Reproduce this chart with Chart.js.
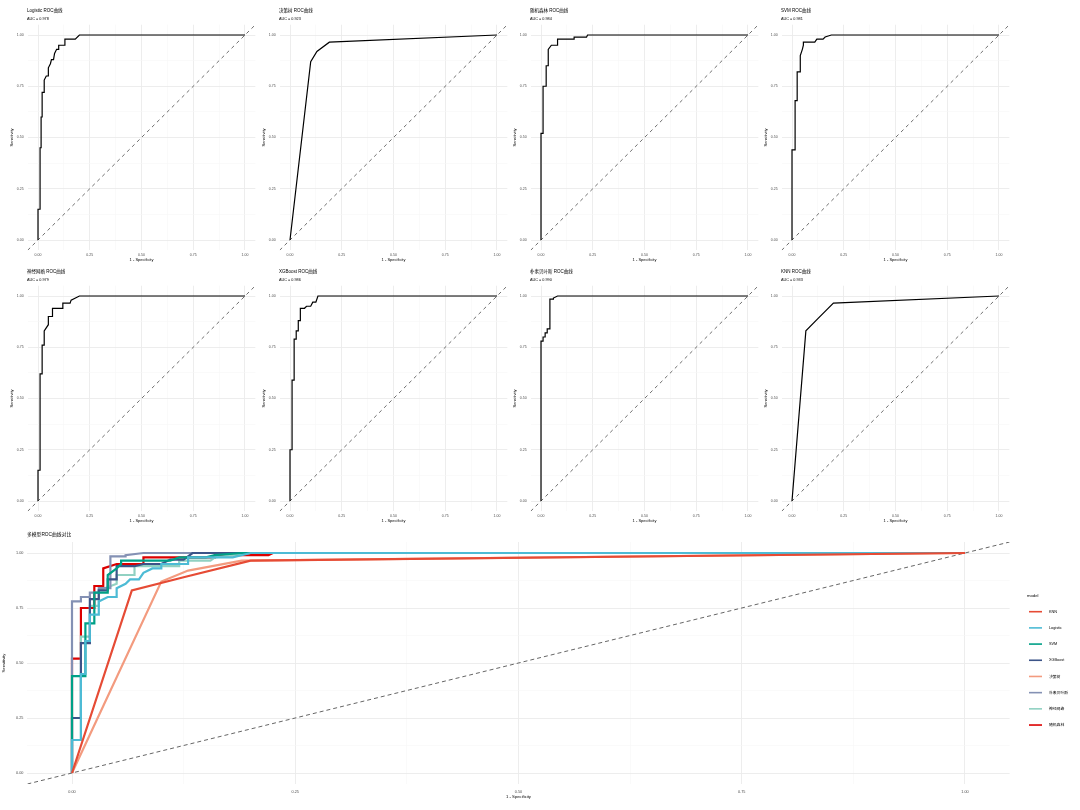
<!DOCTYPE html>
<html><head><meta charset="utf-8">
<script src="https://cdn.jsdelivr.net/npm/chart.js@4.4.1/dist/chart.umd.min.js"></script>
<style>
html,body{margin:0;padding:0;background:#fff;width:1080px;height:810px;overflow:hidden;position:relative;}
canvas{position:absolute;}
</style></head><body>
<script>
// ---------- data ----------
const panelModels = ['Logistic','决策树','随机森林','SVM','神经网络','XGBoost','朴素贝叶斯','KNN'];
const aucLabels   = ['0.978','0.923','0.984','0.981','0.979','0.986','0.990','0.933'];

const fprLogistic = [0,0,0.01,0.01,0.015,0.015,0.02,0.02,0.03,0.03,0.04,0.05,0.05,0.06,0.065,0.075,0.08,0.09,0.10,0.10,0.13,0.13,0.18,0.20,1];
const tprLogistic = [0,0.15,0.15,0.45,0.45,0.60,0.60,0.72,0.72,0.78,0.80,0.80,0.84,0.86,0.88,0.88,0.91,0.93,0.93,0.95,0.95,0.98,0.98,1,1];

const fprTree = [0,0.10,0.13,0.19,1];
const tprTree = [0,0.87,0.92,0.965,1];

const fprRF = [0,0,0.01,0.01,0.025,0.025,0.035,0.035,0.05,0.08,0.08,0.16,0.16,0.22,0.225,1];
const tprRF = [0,0.52,0.52,0.75,0.75,0.85,0.85,0.93,0.95,0.95,0.98,0.98,0.99,0.99,1,1];

const fprSVM = [0,0,0.015,0.015,0.025,0.025,0.04,0.04,0.05,0.055,0.055,0.11,0.12,0.15,0.16,0.19,1];
const tprSVM = [0,0.44,0.44,0.68,0.68,0.82,0.82,0.90,0.93,0.95,0.965,0.965,0.98,0.98,0.99,1,1];

const fprNN = [0,0,0.01,0.01,0.02,0.02,0.03,0.03,0.05,0.05,0.07,0.07,0.09,0.12,0.12,0.155,0.16,0.20,1];
const tprNN = [0,0.15,0.15,0.62,0.62,0.76,0.76,0.83,0.86,0.90,0.90,0.94,0.94,0.94,0.965,0.965,0.98,1,1];

const fprXGB = [0,0,0.01,0.01,0.02,0.02,0.03,0.03,0.04,0.04,0.05,0.05,0.07,0.08,0.08,0.10,0.11,0.125,0.135,1];
const tprXGB = [0,0.25,0.25,0.59,0.59,0.79,0.79,0.83,0.83,0.88,0.88,0.94,0.94,0.95,0.95,0.95,0.97,0.97,1,1];

const fprNB = [0,0,0.01,0.01,0.02,0.02,0.03,0.03,0.043,0.043,0.06,0.06,0.08,1];
const tprNB = [0,0.78,0.78,0.80,0.80,0.82,0.82,0.84,0.84,0.985,0.985,0.99,1,1];

const fprKNN = [0,0.067,0.125,0.20,1];
const tprKNN = [0,0.83,0.89,0.965,1];

const legendOrder  = ['KNN','Logistic','SVM','XGBoost','决策树','朴素贝叶斯','神经网络','随机森林'];
const legendColors = ['#E64B35','#4DBBD5','#00A087','#3C5488','#F39B7F','#8491B4','#91D1C2','#DC0000'];

const majorTicks = [0,0.25,0.5,0.75,1];
const majorLabels = ['0.00','0.25','0.50','0.75','1.00'];
const minorTicks = [0.125,0.375,0.625,0.875];
const diagX = [-0.05,1.05];
const diagY = [-0.05,1.05];

// ---------- helpers ----------
const curves = {
  'Logistic':{f:fprLogistic,t:tprLogistic}, '决策树':{f:fprTree,t:tprTree},
  '随机森林':{f:fprRF,t:tprRF}, 'SVM':{f:fprSVM,t:tprSVM}, '神经网络':{f:fprNN,t:tprNN},
  'XGBoost':{f:fprXGB,t:tprXGB}, '朴素贝叶斯':{f:fprNB,t:tprNB}, 'KNN':{f:fprKNN,t:tprKNN}
};
const FAM = '"Liberation Sans","Noto Sans CJK SC",sans-serif';
const pts = (xs,ys) => xs.map((x,i)=>({x:x,y:ys[i]}));
const allTicks = majorTicks.concat(minorTicks).sort((a,b)=>a-b);
const isMajor = v => majorTicks.some(m=>Math.abs(m-v)<1e-9);
const labelOf = v => { const i = majorTicks.findIndex(m=>Math.abs(m-v)<1e-9); return i>=0 ? majorLabels[i] : ''; };

function axis(isX, o){
  return {
    type:'linear', min:-0.05, max:1.05,
    afterBuildTicks: s => { s.ticks = allTicks.map(v=>({value:v})); },
    afterFit: s => { if(isX) s.height = o.size; else s.width = o.size; },
    grid:{ drawTicks:false, color: c => isMajor(c.tick.value) ? '#EBEBEB' : '#F6F6F6', lineWidth: c => isMajor(c.tick.value) ? 0.9 : 0.6 },
    border:{display:false},
    ticks:{ autoSkip:false, maxRotation:0, padding:o.tickPad, color:'#4D4D4D', font:{size:o.tickFont,family:FAM}, callback: v => labelOf(v) },
    title:{ display:true, text:o.title, color:'#000', font:{size:o.titleFont,family:FAM}, padding: isX ? {top:0,bottom:o.titlePad} : {top:o.titlePad,bottom:0} }
  };
}

const textPlugin = {
  id:'textPlugin',
  afterDraw(chart, args, opts){
    const ctx = chart.ctx; ctx.save();
    ctx.textAlign='left'; ctx.textBaseline='middle'; ctx.fillStyle='#000';
    (opts.items||[]).forEach(it=>{
      ctx.font = it.size+'px '+FAM; ctx.fillStyle = it.color||'#000';
      ctx.fillText(it.text, it.x, it.y);
    });
    if(opts.legend){
      const L = opts.legend;
      ctx.fillStyle='#000'; ctx.font = L.titleSize+'px '+FAM;
      ctx.fillText(L.title, L.x, L.titleY);
      L.names.forEach((n,i)=>{
        const y = L.y0 + i*L.step;
        ctx.strokeStyle = L.colors[i]; ctx.lineWidth = 1.6; ctx.setLineDash([]);
        ctx.beginPath(); ctx.moveTo(L.x+2, y); ctx.lineTo(L.x+15, y); ctx.stroke();
        ctx.fillStyle='#000'; ctx.font = L.size+'px '+FAM;
        ctx.fillText(n, L.x+22, y);
      });
    }
    ctx.restore();
  }
};

function makeCanvas(left, top, w, h){
  const c = document.createElement('canvas');
  c.width = w; c.height = h;
  c.style.left = left+'px'; c.style.top = top+'px';
  c.style.width = w+'px'; c.style.height = h+'px';
  document.body.appendChild(c);
  return c;
}

// ---------- small panels ----------
const colX0 = [38,290,541,792];
const rowY1 = [35,296];
panelModels.forEach((name,k)=>{
  const r = Math.floor(k/4), c = k%4;
  const x0 = colX0[c], y1 = rowY1[r];
  const left = x0-30, top = y1-35, W = 250, H = 268;
  const cv = makeCanvas(left, top, W, H);
  const cu = curves[name];
  new Chart(cv, {
    type:'scatter',
    data:{datasets:[
      {data:pts(cu.f,cu.t), showLine:true, borderColor:'#000', borderWidth:1.2, pointRadius:0, tension:0},
      {data:pts(diagX,diagY), showLine:true, borderColor:'#6E6E6E', borderWidth:1, borderDash:[3.5,3.5], pointRadius:0}
    ]},
    options:{
      responsive:false, animation:false, devicePixelRatio:1, events:[],
      layout:{padding:{left:0, top:24.75, right:2.65, bottom:0}},
      plugins:{ legend:{display:false}, tooltip:{enabled:false},
        textPlugin:{items:[
          {text:name+' ROC曲线', x:19, y:11, size:4.5},
          {text:'AUC = '+aucLabels[k], x:19, y:18.5, size:3.8}
        ]}
      },
      scales:{
        x: axis(true, {size:17.75, tickPad:2.5, tickFont:3.5, titleFont:4, title:'1 - Specificity', titlePad:5.6}),
        y: axis(false,{size:19.65, tickPad:4, tickFont:3.5, titleFont:4, title:'Sensitivity', titlePad:1.6})
      }
    },
    plugins:[textPlugin]
  });
});

// ---------- combined chart ----------
(function(){
  const cv = makeCanvas(0, 525, 1080, 285);
  const ds = legendOrder.map((name,i)=>({
    label:name, data:pts(curves[name].f, curves[name].t), showLine:true,
    borderColor:legendColors[i], borderWidth:2.2, pointRadius:0, tension:0
  }));
  ds.push({label:'diag', data:pts(diagX,diagY), showLine:true, borderColor:'#666', borderWidth:1, borderDash:[4,3], pointRadius:0});
  new Chart(cv, {
    type:'scatter',
    data:{datasets:ds},
    options:{
      responsive:false, animation:false, devicePixelRatio:1, events:[],
      layout:{padding:{left:0, top:17, right:70.35, bottom:0}},
      plugins:{ legend:{display:false}, tooltip:{enabled:false},
        textPlugin:{
          items:[{text:'多模型ROC曲线对比', x:27, y:10, size:4.8}],
          legend:{title:'model', x:1027, titleY:71, titleSize:4.2, y0:86.7, step:16.19, size:3.8, names:legendOrder, colors:legendColors}
        }
      },
      scales:{
        x: axis(true, {size:26, tickPad:5.6, tickFont:3.8, titleFont:4.2, title:'1 - Specificity', titlePad:10.2}),
        y: axis(false,{size:27.35, tickPad:4, tickFont:3.8, titleFont:4.2, title:'Sensitivity', titlePad:1.5})
      }
    },
    plugins:[textPlugin]
  });
})();
</script>
</body></html>
